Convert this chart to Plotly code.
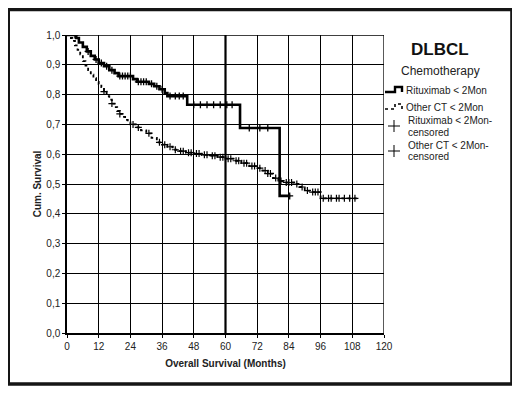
import numpy as np
import plotly.graph_objects as go

# ---- data ----
x_ticks = [0, 12, 24, 36, 48, 60, 72, 84, 96, 108, 120]
y_ticks = [0.0, 0.1, 0.2, 0.3, 0.4, 0.5, 0.6, 0.7, 0.8, 0.9, 1.0]
y_tick_labels = ["0,0", "0,1", "0,2", "0,3", "0,4", "0,5", "0,6", "0,7", "0,8", "0,9", "1,0"]

rit_time = [0, 3.5, 4.5, 6, 7.5, 9, 10.5, 12, 14, 16, 18, 19.5, 25, 26.5, 31, 33, 35, 37, 38, 45.5, 65.5, 80.5]
rit_surv = [1.0, 0.99, 0.975, 0.96, 0.945, 0.93, 0.918, 0.906, 0.895, 0.882, 0.872, 0.862, 0.852, 0.843,
            0.836, 0.828, 0.818, 0.805, 0.795, 0.766, 0.688, 0.46]
rit_end = 84.5
rit_cens = [3, 8, 11, 13, 15, 17, 20, 21, 22, 23, 24, 27, 28, 29, 30, 32, 34, 36, 39, 41, 42.5, 44,
            48, 50.5, 53, 55.5, 58, 60.5, 62.5, 69, 73, 76, 84.3]

ct_time = [0, 1, 2, 3, 4, 5, 6, 7, 8, 9, 10, 11, 12, 13, 14, 15, 16, 17, 18, 19, 20, 21, 22, 23, 24,
           26, 28, 30, 32, 34, 36, 38, 40, 42, 45, 48, 51, 54, 57, 60, 63, 66, 69, 72, 74, 76, 78,
           80, 82, 86, 88, 90, 92, 96]
ct_surv = [1.0, 0.99, 0.98, 0.965, 0.95, 0.935, 0.912, 0.897, 0.882, 0.867, 0.855, 0.843, 0.835, 0.825,
           0.81, 0.795, 0.783, 0.77, 0.758, 0.745, 0.735, 0.725, 0.715, 0.707, 0.70, 0.69, 0.68, 0.67,
           0.655, 0.64, 0.632, 0.625, 0.615, 0.61, 0.605, 0.602, 0.598, 0.595, 0.59, 0.585, 0.578,
           0.57, 0.56, 0.553, 0.545, 0.535, 0.52, 0.51, 0.505, 0.50, 0.49, 0.478, 0.473, 0.452]
ct_end = 110
ct_cens = [14, 17, 20, 25, 27, 31, 35, 37, 39, 41, 43, 44, 46, 47, 49, 50, 52, 53, 55, 56, 58, 59,
           61, 62, 64, 65, 67, 68, 70, 71, 73, 75, 76, 77, 79, 81, 83, 84, 85, 87, 89, 91, 93, 94,
           95, 97, 99, 100, 102, 103, 105, 107, 109]


def curve_at(times, surv, t):
    idx = np.searchsorted(np.asarray(times), np.asarray(t), side="right") - 1
    return list(np.asarray(surv)[idx])


FONT = "Liberation Sans, Arial, sans-serif"
fig = go.Figure()

fig.add_trace(go.Scatter(x=rit_time + [rit_end], y=rit_surv + [rit_surv[-1]], mode="lines",
                         line=dict(color="black", width=2.6, shape="hv"), showlegend=False))
fig.add_trace(go.Scatter(x=ct_time + [ct_end], y=ct_surv + [ct_surv[-1]], mode="lines",
                         line=dict(color="black", width=1.8, shape="hv", dash="dot"), showlegend=False))
fig.add_trace(go.Scatter(x=rit_cens, y=curve_at(rit_time, rit_surv, rit_cens), mode="markers",
                         marker=dict(symbol="cross-thin", size=5, line=dict(color="black", width=1.3)),
                         showlegend=False))
fig.add_trace(go.Scatter(x=ct_cens, y=curve_at(ct_time, ct_surv, ct_cens), mode="markers",
                         marker=dict(symbol="cross-thin", size=5, line=dict(color="black", width=1.2)),
                         showlegend=False))

axis_common = dict(showgrid=True, gridcolor="black", gridwidth=1.3, zeroline=False, automargin=False,
                   showline=True, linecolor="black", linewidth=1.5, ticks="outside",
                   ticklen=3, tickcolor="black", tickfont=dict(family=FONT, size=10, color="#222"))
fig.update_xaxes(range=[0, 120], tickvals=x_ticks, **axis_common, mirror=False,
                 title=dict(text="<b>Overall Survival (Months)</b>", font=dict(family=FONT, size=10, color="#222"),
                            standoff=9))
fig.update_yaxes(range=[0, 1], tickvals=y_ticks, ticktext=y_tick_labels, **axis_common,
                 title=dict(text="<b>Cum. Survival</b>", font=dict(family=FONT, size=10, color="#222"),
                            standoff=3))

# reference line at 60 months (thicker grid line)
fig.add_shape(type="line", xref="x", yref="y", x0=60, x1=60, y0=0, y1=1,
              line=dict(color="black", width=2.2))
# top and right border grid lines
fig.add_shape(type="line", xref="x", yref="y", x0=0, x1=120, y0=1, y1=1, line=dict(color="black", width=1.3))
fig.add_shape(type="line", xref="x", yref="y", x0=120, x1=120, y0=0, y1=1, line=dict(color="black", width=1.3))

# page offset: the html body has an 8px margin
OFF = 8
W, H = 512, 385
ml, mr, mt, mb = 59, 136, 27, 60


def fx(x):  # page pixel -> paper
    return (x - OFF - ml) / (W - ml - mr)


def fy(y):
    return 1 - (y - OFF - mt) / (H - mt - mb)


# outer frame
fig.add_shape(type="rect", xref="paper", yref="paper", x0=fx(8.2), x1=fx(512), y0=fy(384), y1=fy(9.5),
              line=dict(color="#151515", width=3.6), layer="below")

# custom legend
fig.add_annotation(xref="paper", yref="paper", x=fx(440), y=fy(49), text="<b>DLBCL</b>", showarrow=False,
                   font=dict(family=FONT, size=17, color="#111"), xanchor="center", yanchor="middle")
fig.add_annotation(xref="paper", yref="paper", x=fx(440), y=fy(71), text="Chemotherapy", showarrow=False,
                   font=dict(family=FONT, size=12, color="#222"), xanchor="center", yanchor="middle")

fig.add_shape(type="path", xref="paper", yref="paper",
              path=f"M {fx(385)} {fy(92)} L {fx(395)} {fy(92)} L {fx(395)} {fy(87)} L {fx(402)} {fy(87)} L {fx(402)} {fy(92)}",
              line=dict(color="black", width=2.4))
fig.add_shape(type="path", xref="paper", yref="paper",
              path=f"M {fx(385)} {fy(109)} L {fx(395)} {fy(109)} L {fx(395)} {fy(104)} L {fx(402)} {fy(104)} L {fx(402)} {fy(109)}",
              line=dict(color="black", width=1.6, dash="dot"))
for yy in (126, 151):
    fig.add_shape(type="line", xref="paper", yref="paper", x0=fx(388), x1=fx(400), y0=fy(yy), y1=fy(yy),
                  line=dict(color="black", width=1))
    fig.add_shape(type="line", xref="paper", yref="paper", x0=fx(394), x1=fx(394), y0=fy(yy - 6), y1=fy(yy + 6),
                  line=dict(color="black", width=1))

legend_texts = [
    (405, 91, "Rituximab < 2Mon"),
    (405, 107, "Other CT < 2Mon"),
    (407, 120.5, "Rituximab < 2Mon-"),
    (407, 132, "censored"),
    (407, 145, "Other CT < 2Mon-"),
    (407, 156.5, "censored"),
]
for x, y, t in legend_texts:
    fig.add_annotation(xref="paper", yref="paper", x=fx(x), y=fy(y), text=t, showarrow=False, align="left",
                       font=dict(family=FONT, size=10, color="#222"), xanchor="left", yanchor="middle",
                       borderpad=0)

fig.update_layout(width=W, height=H, margin=dict(l=ml, r=mr, t=mt, b=mb),
                  plot_bgcolor="white", paper_bgcolor="white", showlegend=False)

fig.write_html("out.html")
